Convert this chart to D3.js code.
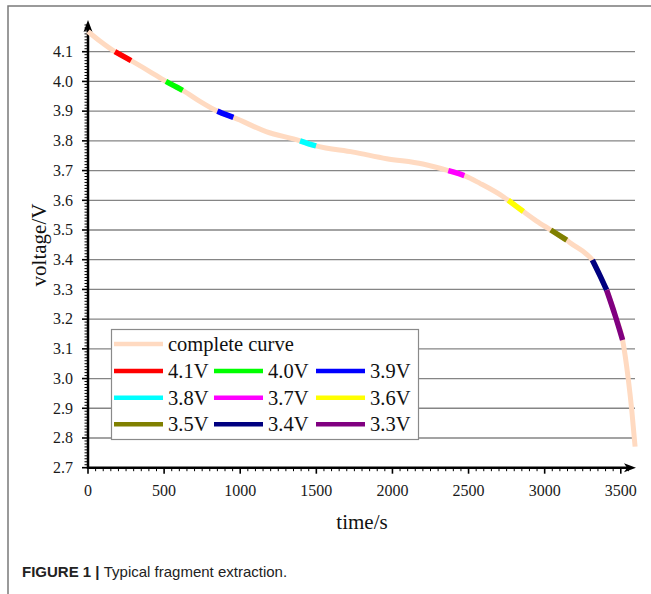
<!DOCTYPE html>
<html>
<head>
<meta charset="utf-8">
<script src="https://cdn.jsdelivr.net/npm/d3@7"></script>
<style>
  body { margin: 0; background: #fff; }
  svg { display: block; }
  .serif { font-family: "Liberation Serif", "Times New Roman", serif; }
</style>
</head>
<body>
<svg id="chart" width="651" height="594"></svg>
<script>
// discharge curve: [time (s), voltage (V)]
const curveTimes = [0, 80, 177, 230, 283, 400, 512, 567, 622, 735, 850, 902, 955, 1170,
  1393, 1445, 1498, 1743, 1962, 2200, 2367, 2420, 2472, 2575, 2728, 2761, 2810, 2860,
  2947, 3040, 3092, 3145, 3167, 3276, 3313, 3361, 3407, 3462, 3512, 3550, 3572, 3594];
const curveVolts = [4.168, 4.135, 4.100, 4.085, 4.070, 4.035, 4.000, 3.985, 3.970, 3.933,
  3.900, 3.889, 3.879, 3.831, 3.800, 3.791, 3.783, 3.762, 3.740, 3.722, 3.700, 3.692,
  3.683, 3.657, 3.612, 3.600, 3.581, 3.562, 3.530, 3.500, 3.483, 3.466, 3.457, 3.418,
  3.399, 3.349, 3.298, 3.214, 3.130, 2.995, 2.894, 2.771];

// extracted fragments
const fragLabels = ["4.1V", "4.0V", "3.9V", "3.8V", "3.7V", "3.6V", "3.5V", "3.4V", "3.3V"];
const fragStart = [177, 512, 850, 1393, 2367, 2761, 3040, 3313, 3407];
const fragEnd = [283, 622, 955, 1498, 2472, 2860, 3145, 3407, 3512];
const fragColors = ["#ff0000", "#00ff00", "#0000ff", "#00ffff", "#ff00ff", "#ffff00",
  "#808000", "#000080", "#800080"];

const xTicks = [0, 500, 1000, 1500, 2000, 2500, 3000, 3500];
const yTicks = [2.7, 2.8, 2.9, 3.0, 3.1, 3.2, 3.3, 3.4, 3.5, 3.6, 3.7, 3.8, 3.9, 4.0, 4.1];

const curveColor = "#ffdac1";
const curveData = curveTimes.map((t, i) => [t, curveVolts[i]]);

const svg = d3.select("#chart");

const x = d3.scaleLinear().domain([0, 3600]).range([88, 636]);
const y = d3.scaleLinear().domain([2.7, 4.2]).range([467.7, 22]);

// outer frame (open on right and bottom)
svg.append("path")
  .attr("d", "M651,6H8V594")
  .attr("fill", "none")
  .attr("stroke", "#7a7a7a")
  .attr("stroke-width", 1.5);

// grid
svg.append("g")
  .selectAll("line")
  .data(yTicks.slice(1))
  .join("line")
  .attr("x1", x(0))
  .attr("x2", 635)
  .attr("y1", d => y(d))
  .attr("y2", d => y(d))
  .attr("stroke", "#858585")
  .attr("stroke-width", 1.3);

// ticks, minor every 50 s / 0.01 V
const xMinor = d3.range(0, 3600, 50);
const yMinor = d3.range(270, 420).map(d => d / 100);

svg.append("g")
  .selectAll("line")
  .data(xMinor)
  .join("line")
  .attr("x1", d => x(d)).attr("x2", d => x(d))
  .attr("y1", y(2.7))
  .attr("y2", d => y(2.7) + (d % 500 === 0 ? 6 : 3.5))
  .attr("stroke", "#000")
  .attr("stroke-width", d => d % 500 === 0 ? 1.6 : 1);

svg.append("g")
  .selectAll("line")
  .data(yMinor)
  .join("line")
  .attr("x1", d => x(0) - (Math.round(d * 100) % 10 === 0 ? 6 : 3.5))
  .attr("x2", x(0))
  .attr("y1", d => y(d)).attr("y2", d => y(d))
  .attr("stroke", "#000")
  .attr("stroke-width", d => Math.round(d * 100) % 10 === 0 ? 1.6 : 1);

// tick labels
svg.append("g")
  .attr("class", "serif")
  .attr("font-size", 16)
  .attr("fill", "#1a1a1a")
  .selectAll("text")
  .data(xTicks)
  .join("text")
  .attr("x", d => x(d))
  .attr("y", 495.5)
  .attr("text-anchor", "middle")
  .text(d => d3.format("d")(d));

svg.append("g")
  .attr("class", "serif")
  .attr("font-size", 16)
  .attr("fill", "#1a1a1a")
  .selectAll("text")
  .data(yTicks)
  .join("text")
  .attr("x", 73)
  .attr("y", d => y(d) + 5.3)
  .attr("text-anchor", "end")
  .text(d => d3.format(".1f")(d));

// axis lines with arrows
const x0 = x(0), y0 = y(2.7), xEnd = x.range()[1], yTop = y.range()[1];
svg.append("line")
  .attr("x1", x0).attr("x2", xEnd - 6)
  .attr("y1", y0).attr("y2", y0)
  .attr("stroke", "#000").attr("stroke-width", 2.5);
svg.append("line")
  .attr("x1", x0).attr("x2", x0)
  .attr("y1", y0 + 1.2).attr("y2", yTop + 6)
  .attr("stroke", "#000").attr("stroke-width", 2.5);
svg.append("path")
  .attr("d", `M${ xEnd },${ y0 }L${ xEnd - 12 },${ y0 - 4.5 }L${ xEnd - 9 },${ y0 }L${ xEnd - 12 },${ y0 + 4.5 }Z`)
  .attr("fill", "#000");
svg.append("path")
  .attr("d", `M${ x0 },${ yTop - 2 }L${ x0 - 4.5 },${ yTop + 10 }L${ x0 },${ yTop + 7 }L${ x0 + 4.5 },${ yTop + 10 }Z`)
  .attr("fill", "#000");

// curves
const line = d3.line()
  .x(d => x(d[0]))
  .y(d => y(d[1]))
  .curve(d3.curveMonotoneX);

svg.append("path")
  .datum(curveData)
  .attr("d", line)
  .attr("fill", "none")
  .attr("stroke", curveColor)
  .attr("stroke-width", 5);

fragLabels.forEach((label, i) =>
{
  const part = curveData.filter(d => d[0] >= fragStart[i] && d[0] <= fragEnd[i]);
  svg.append("path")
    .datum(part)
    .attr("d", line)
    .attr("fill", "none")
    .attr("stroke", fragColors[i])
    .attr("stroke-width", 5.5);
});

// legend
const legend = svg.append("g").attr("class", "serif");
legend.append("rect")
  .attr("x", 111.5).attr("y", 329.5)
  .attr("width", 307).attr("height", 110)
  .attr("fill", "#fff")
  .attr("stroke", "#8a8a8a")
  .attr("stroke-width", 1.2);

const legendItems = [{ label: "complete curve", color: curveColor, lx: 114, ly: 344 }];
const colX = [114, 214, 316];
const rowY = [371, 397.7, 424.3];
fragLabels.forEach((label, i) =>
{
  legendItems.push({ label: label, color: fragColors[i], lx: colX[i % 3], ly: rowY[Math.floor(i / 3)] });
});

legendItems.forEach((item) =>
{
  legend.append("line")
    .attr("x1", item.lx).attr("x2", item.lx + 49)
    .attr("y1", item.ly).attr("y2", item.ly)
    .attr("stroke", item.color)
    .attr("stroke-width", 4.5);
  legend.append("text")
    .attr("x", item.lx + 54)
    .attr("y", item.ly + 7)
    .attr("font-size", 20.5)
    .attr("fill", "#111")
    .text(item.label);
});

// axis titles
svg.append("text")
  .attr("class", "serif")
  .attr("x", 362).attr("y", 529)
  .attr("text-anchor", "middle")
  .attr("font-size", 21)
  .attr("fill", "#111")
  .text("time/s");

svg.append("text")
  .attr("class", "serif")
  .attr("transform", "translate(46, 245) rotate(-90)")
  .attr("text-anchor", "middle")
  .attr("font-size", 21)
  .attr("fill", "#111")
  .text("voltage/V");

// caption
const caption = svg.append("text")
  .attr("x", 22).attr("y", 577)
  .attr("font-family", "Liberation Sans, Arial, sans-serif")
  .attr("font-size", 15)
  .attr("fill", "#222");
caption.append("tspan").attr("font-weight", "bold").text("FIGURE 1 | ");
caption.append("tspan").text("Typical fragment extraction.");
</script>
</body>
</html>
